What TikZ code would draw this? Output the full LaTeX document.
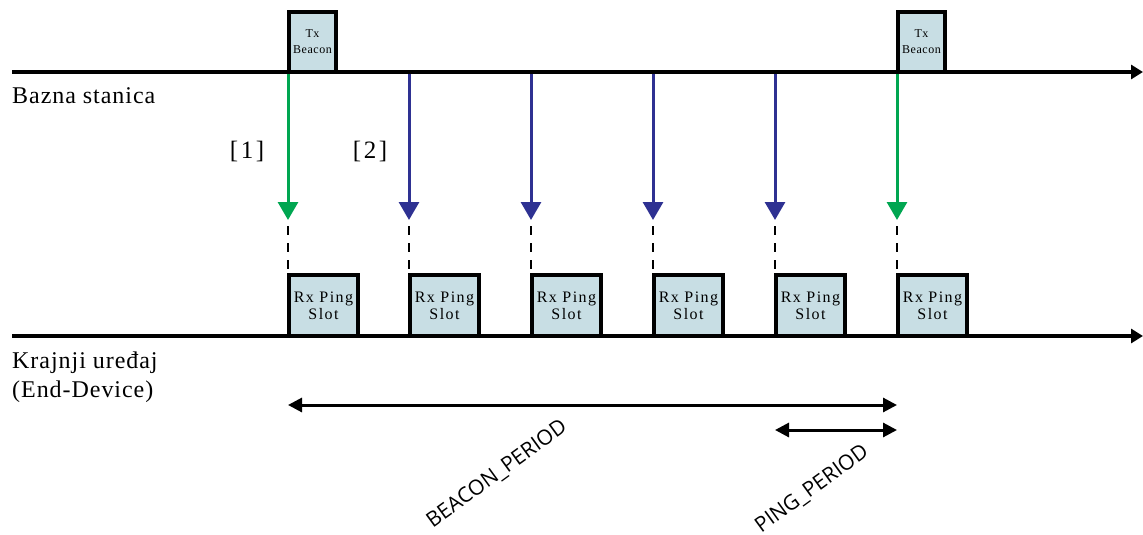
\documentclass[tikz,border=0pt]{standalone}
\usepackage{fontspec}
\setmainfont{Liberation Serif}
\newfontfamily\sidefont[LetterSpace=4]{Liberation Serif}
\newfontfamily\boxfont[LetterSpace=9]{Liberation Serif}
\newfontfamily\smallboxfont[LetterSpace=5]{Liberation Serif}
\newfontfamily\markfont[LetterSpace=10]{Liberation Serif}
\newfontfamily\periodfont{Open Sans}
\usetikzlibrary{arrows.meta}

\definecolor{beaconarrow}{RGB}{0,166,81}
\definecolor{pingarrow}{RGB}{46,49,146}
\definecolor{slotfill}{RGB}{200,222,228}

\tikzset{
  timeaxis/.style={line width=3.5pt, -{Triangle[length=12pt,width=14pt]}},
  txbox/.style={draw, line width=3.5pt, fill=slotfill, inner sep=0pt, outer sep=0pt,
    minimum width=47pt, minimum height=60pt, anchor=south west,
    align=center, font=\smallboxfont\fontsize{12}{16}\selectfont},
  rxbox/.style={draw, line width=3.5pt, fill=slotfill, inner sep=0pt, outer sep=0pt,
    minimum width=69pt, minimum height=61pt, anchor=south west,
    align=center, font=\boxfont\fontsize{16}{17}\selectfont},
  downlink/.style={line width=3pt, -{Triangle[length=18pt,width=20pt]}},
  slotguide/.style={line width=1.6pt, dash pattern=on 9pt off 8pt},
  span/.style={line width=3pt, {Triangle[length=14pt,width=14pt]}-{Triangle[length=14pt,width=14pt]}},
  sidelabel/.style={align=left, inner sep=0pt, font=\sidefont\fontsize{24}{29}\selectfont},
  marklabel/.style={font=\markfont\fontsize{25}{27}\selectfont},
  periodlabel/.style={rotate=36, font=\periodfont\fontsize{21}{23}\selectfont},
}

\begin{document}
\begin{tikzpicture}[x=1pt,y=-1pt]
\useasboundingbox (0,0) rectangle (1143,535);

% time axes
\coordinate (bsL) at (12,72);
\coordinate (bsR) at (1143,72);
\coordinate (edL) at (12,336);
\coordinate (edR) at (1143,336);

% Rx ping slot boxes on the end-device axis
\foreach \i/\x in {1/289,2/410,3/532,4/654,5/776,6/898}{
  \node[rxbox] (rx\i) at (\x,336) {Rx Ping\\Slot};
}

% beacon transmissions on the base-station axis
\node[txbox] (tx1) at (289,72) {Tx\\Beacon};
\node[txbox] (tx2) at (898,72) {Tx\\Beacon};

\draw[timeaxis] (bsL) -- (bsR);
\draw[timeaxis] (edL) -- (edR);

% downlink arrows and dashed guides to the slots
\foreach \i/\x/\c in {1/288/beaconarrow,2/409/pingarrow,3/531/pingarrow,4/653/pingarrow,5/775/pingarrow,6/897/beaconarrow}{
  \coordinate (top\i) at (\x,74);
  \coordinate (tip\i) at (\x,220);
  \coordinate (dash\i) at (\x,226);
  \draw[downlink, \c] (top\i) -- (tip\i);
  \draw[slotguide] (dash\i) -- (dash\i |- rx\i.north);
}

\node[marklabel] (m1) at (247,151) {[1]};
\node[marklabel] (m2) at (370,151) {[2]};

\node[sidelabel, anchor=base west] (bs) at (12,103) {Bazna stanica};
\node[sidelabel, anchor=west] (ed) at (12,377) {Krajnji uređaj\\(End-Device)};

% period spans
\coordinate (bpA) at (288,405);
\coordinate (bpB) at (897,405);
\coordinate (ppA) at (775,430);
\coordinate (ppB) at (897,430);
\draw[span] (bpA) -- (bpB);
\draw[span] (ppA) -- (ppB);

\node[periodlabel] (bp) at (497,474) {BEACON\_PERIOD};
\node[periodlabel] (pp) at (812,489) {PING\_PERIOD};
\end{tikzpicture}
\end{document}
